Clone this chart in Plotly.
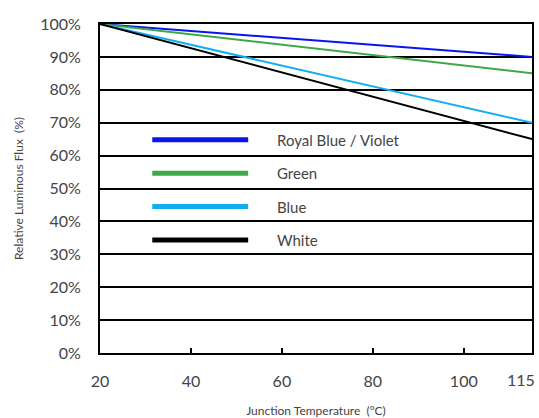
import plotly.graph_objects as go

# ---- data ----
temps = [20, 115]
series_names = ["Royal Blue / Violet", "Green", "Blue", "White"]
royal_blue = [100, 90]
green = [100, 85]
blue = [100, 70]
white = [100, 65]
x_ticks = [20, 40, 60, 80, 100, 115]
x_tick_labels = ["20", "40", "60", "80", "100", "115"]
y_ticks = [0, 10, 20, 30, 40, 50, 60, 70, 80, 90, 100]

series_values = [royal_blue, green, blue, white]
colors = ["#0a14f0", "#3daa4a", "#12aef0", "#000000"]

FONT = "Lato"
TXT = "#444444"

fig = go.Figure()
for name, vals, col in zip(series_names, series_values, colors):
    fig.add_trace(go.Scatter(x=temps, y=vals, mode="lines", name=name,
                             line=dict(color=col, width=2), showlegend=False))

# manual legend inside plot (paper coordinates)
leg_x0, leg_x1, leg_tx = 0.121, 0.343, 0.405
leg_y_top, leg_dy = 0.648, 0.1015
for i, (name, col) in enumerate(zip(series_names, colors)):
    yy = leg_y_top - i * leg_dy
    fig.add_shape(type="line", xref="paper", yref="paper",
                  x0=leg_x0, x1=leg_x1, y0=yy, y1=yy,
                  line=dict(color=col, width=5))
    fig.add_annotation(xref="paper", yref="paper", x=leg_tx, y=yy,
                       text=name, showarrow=False, xanchor="left", yanchor="middle",
                       font=dict(size=15, color=TXT, family=FONT))

# last x tick label kept inside the page (right-aligned at the axis end)
fig.add_annotation(xref="x", yref="paper", x=x_ticks[-1], y=0,
                   text=x_tick_labels[-1], showarrow=False,
                   xanchor="right", yanchor="top", xshift=5, yshift=-15,
                   font=dict(size=16, color=TXT, family=FONT))

fig.update_layout(
    width=539, height=418,
    margin=dict(l=100, r=7, t=24, b=65, autoexpand=False),
    paper_bgcolor="white", plot_bgcolor="white",
    font=dict(family=FONT, color=TXT),
    showlegend=False,
)
fig.update_xaxes(range=[20, 115], tickvals=x_ticks,
                 ticktext=x_tick_labels[:-1] + [""],
                 automargin=False,
                 showgrid=False, zeroline=False,
                 showline=True, linecolor="black", linewidth=2, mirror=True,
                 ticks="inside", ticklen=5, tickwidth=2, tickcolor="black",
                 ticklabelstandoff=13,
                 tickfont=dict(size=16, color=TXT, family=FONT),
                 title=dict(text="Junction Temperature  (°C)", font=dict(size=12, color=TXT), standoff=25))
fig.update_yaxes(range=[0, 100], tickvals=y_ticks, ticktext=[f"{v}%" for v in y_ticks],
                 automargin=False,
                 showgrid=True, gridcolor="black", gridwidth=1.5, zeroline=False,
                 showline=True, linecolor="black", linewidth=2, mirror=True,
                 ticks="", ticklabelstandoff=14,
                 tickfont=dict(size=16, color=TXT, family=FONT),
                 title=dict(text="Relative Luminous Flux  (%)", font=dict(size=12, color=TXT), standoff=14))

fig.write_html("out.html", config={"displayModeBar": False},
               post_script="document.body.style.margin='0';")
